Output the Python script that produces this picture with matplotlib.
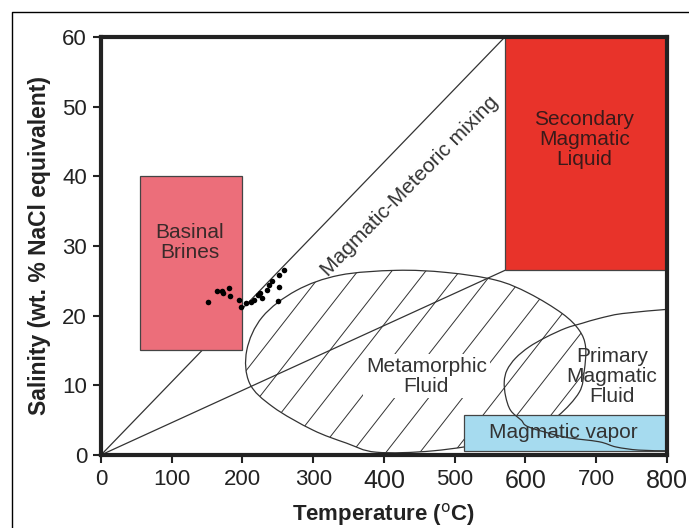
import matplotlib
matplotlib.use("Agg")
import matplotlib.pyplot as plt
import numpy as np
from matplotlib.patches import Rectangle, PathPatch
from matplotlib.path import Path
from matplotlib.lines import Line2D

plt.rcParams["font.family"] = ["Liberation Sans", "DejaVu Sans"]

# fluid inclusion data (temperature, salinity)
temp = [151, 164, 171, 172, 181, 183, 195, 198, 212, 216, 222, 225, 234, 238,
        242, 251, 251, 258, 250, 205, 228]
salin = [22.0, 23.6, 23.6, 23.2, 23.9, 22.8, 22.3, 21.3, 22.0, 22.2, 22.9, 23.3,
         23.7, 24.4, 25.0, 24.1, 25.9, 26.6, 22.1, 21.8, 22.6]

# field boxes: (xmin, xmax, ymin, ymax)
basinal = (55, 200, 15, 40)
secondary = (571, 800, 26.5, 60)
vapor = (513, 800, 0.6, 5.7)

# mixing lines end points
upper_end = (571, 60)
lower_end = (571, 26.5)

# metamorphic fluid outline
meta_x = [206, 228, 276, 337, 417, 488, 558, 605, 652, 676, 685, 683, 676, 647,
          615, 560, 470, 389, 347, 299, 243, 210]
meta_y = [15.0, 19.8, 23.6, 25.8, 26.5, 26.2, 25.1, 23.2, 20.3, 17.9, 15.5, 12.0,
          9.0, 5.7, 3.8, 2.0, 0.6, 0.4, 1.7, 3.6, 6.9, 10.3]

# primary magmatic fluid boundary
prim_x = [800, 737, 704, 680, 657, 629, 605, 586, 574, 570, 572, 579, 594, 605,
          654, 704, 728, 760, 800]
prim_y = [20.9, 20.3, 19.6, 18.9, 18.2, 16.9, 15.5, 13.9, 12.2, 10.5, 8.4, 6.4,
          5.0, 4.0, 2.6, 1.9, 1.15, 0.7, 0.6]


def smooth_path(xs, ys, closed=False):
    p = np.column_stack([xs, ys]).astype(float)
    n = len(p)
    verts = [p[0]]
    codes = [Path.MOVETO]
    segs = n if closed else n - 1
    for i in range(segs):
        p0 = p[(i - 1) % n] if (closed or i > 0) else p[i]
        p1 = p[i % n]
        p2 = p[(i + 1) % n]
        p3 = p[(i + 2) % n] if (closed or i + 2 < n) else p2
        c1 = p1 + (p2 - p0) / 6.0
        c2 = p2 - (p3 - p1) / 6.0
        verts += [c1, c2, p2]
        codes += [Path.CURVE4] * 3
    if closed:
        verts.append(p[0])
        codes.append(Path.CLOSEPOLY)
    return Path(verts, codes)


fig = plt.figure(figsize=(6.89, 5.28), dpi=100)
ax = fig.add_axes([0.1466, 0.1383, 0.8214, 0.7917])
ax.set_xlim(0, 800)
ax.set_ylim(0, 60)

lc = "#333333"
tc = "#333333"

# mixing lines
ax.plot([0, upper_end[0]], [0, upper_end[1]], color=lc, lw=0.9, zorder=2)
ax.plot([0, lower_end[0]], [0, lower_end[1]], color=lc, lw=0.9, zorder=2)

# metamorphic field with hatching
meta_path = smooth_path(meta_x, meta_y, closed=True)
meta = PathPatch(meta_path, facecolor="none", edgecolor=lc, lw=0.9, zorder=2)
ax.add_patch(meta)
slope = 0.13
for x0 in range(64, 700, 48):
    ln, = ax.plot([x0, x0 + 30 / slope], [0, 30], color=lc, lw=0.7, zorder=1.5)
    ln.set_clip_path(meta)

# boxes
for (x1, x2, y1, y2), fc in [(basinal, "#ec6e7a"), (secondary, "#e8332a"),
                             (vapor, "#a6dbef")]:
    ax.add_patch(Rectangle((x1, y1), x2 - x1, y2 - y1, facecolor=fc,
                           edgecolor="#444444", lw=0.9, zorder=3))

# primary magmatic fluid boundary
prim = PathPatch(smooth_path(prim_x, prim_y), facecolor="none", edgecolor=lc,
                 lw=0.9, zorder=4)
ax.add_patch(prim)

ax.scatter(temp, salin, s=16, color="black", zorder=5, linewidths=0)

fs = 15
ax.text(125, 30.5, "Basinal\nBrines", ha="center", va="center", fontsize=fs,
        color="#3a2a2a", linespacing=1.1, zorder=6)
ax.text(683, 45.3, "Secondary\nMagmatic\nLiquid", ha="center", va="center",
        fontsize=fs, color="#3a1a1a", linespacing=1.05, zorder=6)
ax.text(437, 38.5, "Magmatic-Meteoric mixing", ha="center", va="center",
        fontsize=fs, color=tc, rotation=45.5, rotation_mode="anchor", zorder=6)
ax.text(460, 11.3, "Metamorphic\nFluid", ha="center", va="center", fontsize=fs,
        color=tc, linespacing=1.05, zorder=6,
        bbox=dict(facecolor="white", edgecolor="none", pad=2))
ax.text(722, 11.3, "Primary\nMagmatic\nFluid", ha="center", va="center",
        fontsize=fs, color=tc, linespacing=1.05, zorder=6)
ax.text(654, 3.2, "Magmatic vapor", ha="center", va="center", fontsize=fs,
        color=tc, zorder=6)

ax.set_xticks(range(0, 801, 100))
ax.set_yticks(range(0, 61, 10))
ax.tick_params(direction="out", length=6, width=1.5, labelsize=16,
               colors="#222222", pad=4)
for lab in ax.get_xticklabels():
    if lab.get_text() in ("400", "600", "800"):
        lab.set_fontsize(18)
for sp in ax.spines.values():
    sp.set_linewidth(3)
    sp.set_color("#222222")
    sp.set_zorder(7)

ax.set_xlabel("Temperature ($^{\\rm o}$C)", fontsize=16, fontweight="bold",
              color="#222222", labelpad=6)
ax.set_ylabel("Salinity (wt. % NaCl equivalent)", fontsize=16.5,
              fontweight="bold", color="#222222", labelpad=8)

# outer frame of the original figure
fx = 12 / 689
fy = 1 - 12 / 528
fig.add_artist(Line2D([fx, fx, 1], [0, fy, fy], color="black", lw=1,
                      transform=fig.transFigure))

fig.savefig("out.png", dpi=100)
